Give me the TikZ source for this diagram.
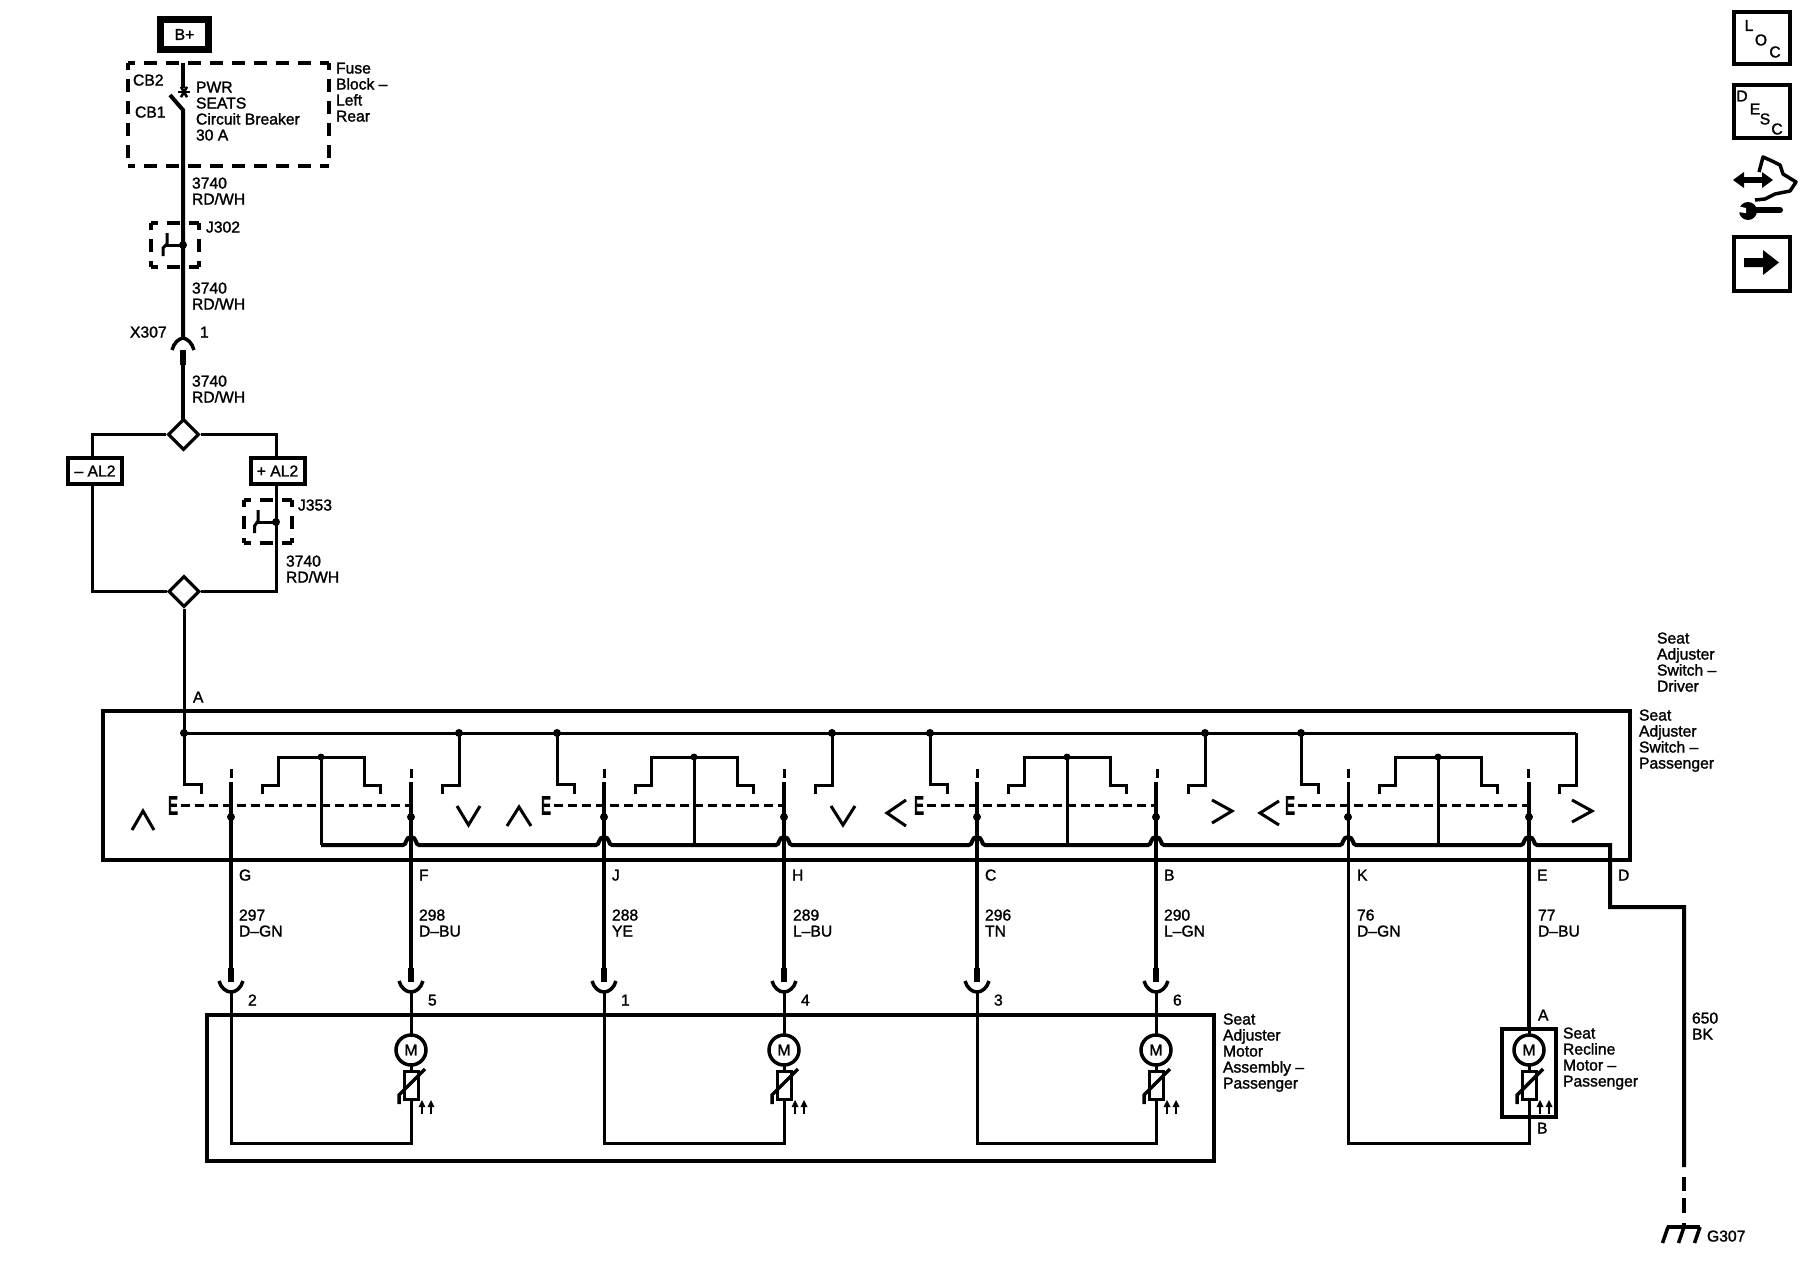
\documentclass[tikz,border=0pt]{standalone}
\usepackage{fontspec}
\usepackage{graphicx}
\usetikzlibrary{shapes.geometric}
\setmainfont{Liberation Sans}[FakeBold=1.5]
\newfontfamily\efont{Liberation Sans}[FakeBold=6]
\tikzset{
  wire/.style={draw=black,line width=4pt},
  thin wire/.style={draw=black,line width=3pt},
  stub/.style={draw=black,line width=6pt},
  plugarc/.style={draw=black,line width=3.5pt},
  dashbox/.style={draw=black,line width=4pt,dash pattern=on 13pt off 9pt,dash phase=6pt},
  swdash/.style={draw=black,line width=3pt,dash pattern=on 9pt off 5pt},
  lab/.style={inner sep=0pt,outer sep=0pt,anchor=north west,align=left,font=\fontsize{15.7}{16}\selectfont},
  ctr/.style={inner sep=0pt,outer sep=0pt,font=\fontsize{15.7}{16}\selectfont},
  chev/.style={draw=black,line width=3pt},
  conbox/.style={draw=black,line width=4pt,fill=white},
  junctionbox/.style={diamond,draw=black,line width=3.2pt,fill=none,minimum size=31pt,inner sep=0pt,aspect=1},
}
\newcommand\lbl[4]{\node[lab] (#1) at (#2,#3-12.5) {\rule{0pt}{12pt}#4};}
\newcommand\dbox[5]{%
  \coordinate (#1nw) at (#2,#3); \coordinate (#1ne) at (#4,#3);
  \coordinate (#1sw) at (#2,#5); \coordinate (#1se) at (#4,#5);
  \draw[dashbox] (#1nw) -- (#1ne); \draw[dashbox] (#1sw) -- (#1se);
  \draw[dashbox] (#1nw) -- (#1sw); \draw[dashbox] (#1ne) -- (#1se);}
% switch section: #1 name, #2 x of left wire
\newcommand\swsec[2]{%
  \coordinate (#1a) at (#2-47,733);
  \coordinate (#1b) at (#2+228,733);
  \coordinate (#1m) at (#2+90,757);
  \coordinate (#1g) at (#2+90,845);
  \draw[thin wire] (#1a) -- (#2-47,784) -- (#2-30,784) -- (#2-30,794);
  \draw[thin wire] (#2+31,794) -- (#2+31,785) -- (#2+47,785) -- (#2+47,757) -- (#2+133,757) -- (#2+133,785) -- (#2+149,785) -- (#2+149,794);
  \draw[thin wire] (#2+211,794) -- (#2+211,785) -- (#2+228,785) -- (#1b);
  \draw[thin wire] (#1m) -- (#1g);
  \fill (#1m) circle (3.5);
  \node[inner sep=0pt,outer sep=0pt,font=\efont\fontsize{25}{25}\selectfont] (#1E) at (#2-58,805.5) {\scalebox{.58}[1]{E}};
  \draw[swdash] (#2-50,805) -- (#2+180,805);
  \draw[thin wire] (#2,769) -- (#2,778);
  \draw[thin wire] (#2+180,769) -- (#2+180,778);
}
\newcommand\plug[2]{%
  \coordinate (#1t) at (#2,968); \coordinate (#1p) at (#2,982); \coordinate (#1b) at (#2,992);
  \draw[stub] (#1t) -- (#1p);
  \draw[plugarc] (#2-12,981) .. controls (#2-10,988) and (#2-5,992) .. (#1b) .. controls (#2+5,992) and (#2+10,988) .. (#2+12,981);}
\newcommand\motor[2]{%
  \node[circle,draw=black,line width=3.5pt,fill=white,minimum size=30pt,inner sep=0pt,font=\fontsize{15.7}{16}\selectfont] (#1) at (#2,1050) {M};
  \node[rectangle,draw=black,line width=3pt,fill=white,minimum width=14pt,minimum height=28pt,inner sep=0pt] (#1r) at (#2,1085) {};
  \draw[thin wire] (#1) -- (#1r);
  \coordinate (#1s) at (#2-12,1095); \coordinate (#1e) at (#2+14,1069);
  \draw[line width=3.5pt] (#2-12,1104) -- (#1s) -- (#1e);
  \foreach \dx in {11,20}{
    \draw[line width=2pt] (#2+\dx,1105) -- (#2+\dx,1114);
    \fill (#2+\dx-3.5,1107) -- (#2+\dx,1100) -- (#2+\dx+3.5,1107) -- cycle;}}
\newcommand\hop[1]{-- (#1-8,845) .. controls (#1-4,845) and (#1-6,837) .. (#1,837) .. controls (#1+6,837) and (#1+4,845) .. (#1+8,845)}
\begin{document}
\begin{tikzpicture}[x=1pt,y=-1pt]
\useasboundingbox (0,0) rectangle (1800,1280);
\fill[white] (0,0) rectangle (1800,1280);

%--- B+ and fuse block
\node[draw=black,line width=7pt,minimum width=48pt,minimum height=30pt,inner sep=0pt,ctr] (bplus) at (184.5,34.5) {B+};
\dbox{fb}{128}{63}{329}{166}
\lbl{cbtwo}{133}{86}{CB2}
\lbl{cbone}{135}{118}{CB1}
\coordinate (fbtop) at (183,63);
\coordinate (star) at (184,92);
\coordinate (swp) at (183,110);
\coordinate (swb) at (170,95);
\draw[wire] (fbtop) -- (183,88);
\foreach \a in {0,60,120}{\draw[line width=2.6pt] (star) ++(\a:6) -- ++(\a+180:12);}
\draw[wire] (swb) -- (swp) -- (183,338);
\lbl{pwr}{196}{93}{PWR\\SEATS\\Circuit Breaker\\30 A}
\lbl{fuse}{336}{74}{Fuse\\Block --\\Left\\Rear}
\lbl{wa}{192}{189}{3740\\RD/WH}

%--- J302
\dbox{jta}{151}{223}{199}{267}
\coordinate (jtad) at (183,245);
\fill (jtad) circle (4);
\draw[thin wire] (jtad) -- (165,245);
\draw[line width=3pt] (167,233) -- (167,244) -- (163,248) -- (163,256);
\lbl{jtwo}{206}{233}{J302}
\lbl{wb}{192}{294}{3740\\RD/WH}

%--- X307
\coordinate (xa) at (183,338);
\draw[plugarc] (172,350) .. controls (174,343) and (178,339) .. (xa) .. controls (188,339) and (192,343) .. (194,350);
\lbl{xthree}{130}{338}{X307}
\lbl{xone}{200}{338}{1}
\coordinate (xs) at (183,350); \coordinate (xe) at (183,365);
\draw[stub] (xs) -- (xe);
\lbl{wc}{192}{387}{3740\\RD/WH}

%--- alternatives
\node[junctionbox] (dia) at (183.5,434.5) {};
\node[junctionbox] (dib) at (184,591.5) {};
\draw[wire] (xe) -- (183,422);
\node[conbox,minimum width=54pt,minimum height=26pt,inner sep=0pt,ctr] (alm) at (95,471) {-- AL2};
\node[conbox,minimum width=54pt,minimum height=26pt,inner sep=0pt,ctr] (alp) at (277.5,471) {+ AL2};
\draw[thin wire] (dia.west) -| (92,457);
\draw[thin wire] (dia.east) -| (276,457);
\draw[thin wire] (92,485) |- (dib.west);
\draw[thin wire] (276,485) |- (dib.east);
\dbox{jtb}{244}{500}{292}{543}
\coordinate (jtbd) at (276,522);
\fill (jtbd) circle (4);
\draw[thin wire] (jtbd) -- (257,522);
\draw[line width=3pt] (258,510) -- (258,521) -- (254.5,526) -- (254.5,533);
\lbl{jthree}{298}{511}{J353}
\lbl{wd}{286}{567}{3740\\RD/WH}
\lbl{pina}{193}{703}{A}

%--- seat adjuster switch
\node[rectangle,draw=black,line width=4pt,minimum width=1527pt,minimum height=149pt,inner sep=0pt] (swbox) at (866.5,785.5) {};
\draw[thin wire] (dib.south) -- (184,733);
\draw[thin wire] (184,733) -- (1576,733);
\fill (184,733) circle (4);
\swsec{sa}{231}
\swsec{sb}{604}
\swsec{sc}{977}
\swsec{sd}{1348}
\foreach \p in {sab,sba,sbb,sca,scb,sda}{\fill (\p) circle (4);}
%--- chevrons
\draw[chev] (132,830) -- (143,811) -- (154,830);
\draw[chev] (457,806) -- (468.5,825) -- (480,806);
\draw[chev] (507,826) -- (519,807) -- (531,826);
\draw[chev] (831,806) -- (843,825) -- (855,806);
\draw[chev] (906,800) -- (887,813) -- (906,826);
\draw[chev] (1212,800) -- (1232,811) -- (1212,823);
\draw[chev] (1279,801) -- (1260,813) -- (1279,825);
\draw[chev] (1572,800) -- (1592,811) -- (1572,822);
%--- ground bus
\coordinate (gnds) at (1684,907);
\coordinate (gndb) at (1684,1227);
\draw[wire] (321,845) \hop{411} \hop{604} \hop{784} \hop{977} \hop{1156} \hop{1348} \hop{1529} -- (1610,845) -- (1610,907) -- (gnds) -- (1684,1167);
\draw[wire] (1684,1177) -- (1684,1191);
\draw[wire] (1684,1198) -- (1684,1213);
\draw[wire] (1684,1223) -- (gndb);
\draw[line width=3.5pt] (1667,1227) -- (1700,1227);
\draw[line width=3.5pt] (1668,1227) -- (1662.5,1243);
\draw[line width=3.5pt] (1684,1227) -- (1678.5,1243);
\draw[line width=3.5pt] (1700,1227) -- (1694.5,1243);
\lbl{gsvn}{1707}{1242}{G307}

%--- motor assembly box
\node[rectangle,draw=black,line width=3.5pt,minimum width=1007pt,minimum height=146pt,inner sep=0pt] (massy) at (710.5,1088) {};
%--- wires down
\foreach \n/\x/\l/\p in {g/231/G/2,f/411/F/5,j/604/J/1,h/784/H/4,c/977/C/3,b/1156/B/6}{
  \draw[wire] (\x,782) -- (\x,968);
  \fill (\x,817) circle (4);
  \plug{pl\n}{\x}
  \node[lab] (let\n) at (\x+8,868.5) {\rule{0pt}{12pt}\l};
  \node[lab] (pin\n) at (\x+17,993.5) {\rule{0pt}{12pt}\p};
  \draw[thin wire] (pl\n b) -- (\x,1143);
}
\draw[thin wire] (1348,782) -- (1348,1143);
\fill (1348,817) circle (4);
\draw[wire] (1529,782) -- (1529,1029);
\draw[thin wire] (1529,1029) -- (1529,1143);
\fill (1529,817) circle (4);
\draw[thin wire] (229.5,1143) -- (412.5,1143);
\draw[thin wire] (602.5,1143) -- (785.5,1143);
\draw[thin wire] (975.5,1143) -- (1157.5,1143);
\draw[thin wire] (1346.5,1143) -- (1530.5,1143);
\motor{mf}{411}
\motor{mh}{784}
\motor{mb}{1156}
%--- recline motor
\node[rectangle,draw=black,line width=4pt,minimum width=54pt,minimum height=88pt,inner sep=0pt] (rbox) at (1529,1073) {};
\motor{me}{1529}
%--- wire labels
\lbl{lwa}{239}{921}{297\\D--GN}
\lbl{lwb}{419}{921}{298\\D--BU}
\lbl{lwc}{612}{921}{288\\YE}
\lbl{lwd}{793}{921}{289\\L--BU}
\lbl{lwe}{985}{921}{296\\TN}
\lbl{lwf}{1164}{921}{290\\L--GN}
\lbl{lwg}{1357}{921}{76\\D--GN}
\lbl{lwh}{1538}{921}{77\\D--BU}
\lbl{letk}{1357}{881}{K}
\lbl{lete}{1537}{881}{E}
\lbl{letd}{1618}{881}{D}
\lbl{sdrv}{1657}{644}{Seat\\Adjuster\\Switch --\\Driver}
\lbl{spsg}{1639}{721}{Seat\\Adjuster\\Switch --\\Passenger}
\lbl{smot}{1223}{1025}{Seat\\Adjuster\\Motor\\Assembly --\\Passenger}
\lbl{srec}{1563}{1039}{Seat\\Recline\\Motor --\\Passenger}
\lbl{rpa}{1538}{1021}{A}
\lbl{rpb}{1537}{1134}{B}
\lbl{wgnd}{1692}{1024}{650\\BK}

%--- icons
\node[rectangle,draw=black,line width=3.5pt,minimum width=56pt,minimum height=52pt,inner sep=0pt] (loc) at (1762,38) {};
\node[ctr] (locl) at (1749,25.5) {L};
\node[ctr] (loco) at (1761,40) {O};
\node[ctr] (locc) at (1775,52) {C};
\node[rectangle,draw=black,line width=3.5pt,minimum width=56pt,minimum height=53pt,inner sep=0pt] (desc) at (1762,111.5) {};
\node[ctr] (desd) at (1742,96) {D};
\node[ctr] (dese) at (1755,109) {E};
\node[ctr] (dess) at (1765,119) {S};
\node[ctr] (desc2) at (1777,129) {C};
\draw[line width=6pt] (1740,180) -- (1766,180);
\fill (1733,180) -- (1744,172) -- (1744,188) -- cycle;
\fill (1773,180) -- (1762,172) -- (1762,188) -- cycle;
\draw[line width=3.5pt,line join=round] (1759,172) -- (1763,157) -- (1772,161) -- (1780,165) -- (1783,174) -- (1796,182) -- (1790,191) -- (1775,194) -- (1765,199) -- (1755,200);
\draw[line width=6pt,line cap=round] (1748,210) -- (1780,210);
\fill (1748,211) circle (9);
\fill[white] (1737,206) -- (1746,208) -- (1746,213) -- (1737,212) -- cycle;
\node[rectangle,draw=black,line width=3.5pt,minimum width=56pt,minimum height=54pt,inner sep=0pt] (arrb) at (1762,264) {};
\fill (1744,258) -- (1763,258) -- (1763,250) -- (1779,262.5) -- (1763,275) -- (1763,267) -- (1744,267) -- cycle;
\end{tikzpicture}
\end{document}
